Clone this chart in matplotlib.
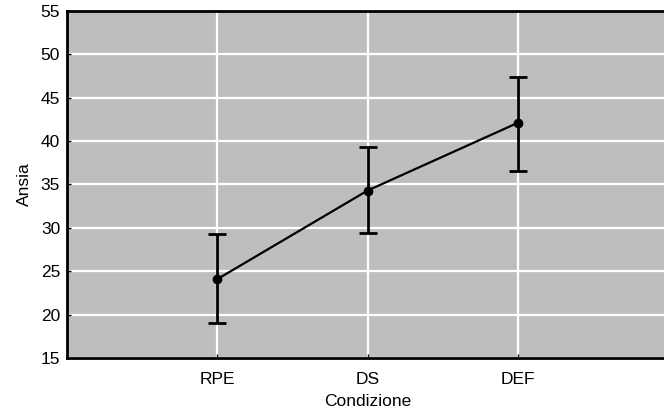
import numpy as np
import matplotlib.pyplot as plt

plt.rcParams['font.family'] = ['Liberation Sans', 'DejaVu Sans']

conditions = ['RPE', 'DS', 'DEF']
means = [24.1, 34.3, 42.1]
err_low = [5.1, 4.9, 5.5]
err_high = [5.2, 5.0, 5.3]

xs = np.arange(1, len(conditions) + 1)

fig = plt.figure(figsize=(6.64, 4.16), dpi=100)
ax = fig.add_axes([0.101, 0.139, 0.905, 0.835])
ax.set_facecolor('#bebebe')

ax.errorbar(xs, means, yerr=[err_low, err_high], fmt='o-', color='black',
            lw=1.6, ms=6, elinewidth=2, capsize=6.3, capthick=2, zorder=3)

ax.set_xlim(0, 4)
ax.set_ylim(15, 55)
ax.set_xticks(xs)
ax.set_xticklabels(conditions)
ax.set_yticks(np.arange(15, 56, 5))
ax.grid(True, color='white', lw=1.6)
ax.set_axisbelow(True)

for side in ['left', 'bottom', 'top']:
    ax.spines[side].set_linewidth(2)
ax.spines['right'].set_visible(False)
ax.tick_params(direction='in', length=3, width=1, labelsize=12.5)
ax.tick_params(axis='x', pad=10)
ax.tick_params(axis='y', pad=5)

ax.set_xlabel('Condizione', fontsize=12.5, labelpad=5)
ax.set_ylabel('Ansia', fontsize=12.5, labelpad=6)

fig.savefig('out.png', dpi=100)
